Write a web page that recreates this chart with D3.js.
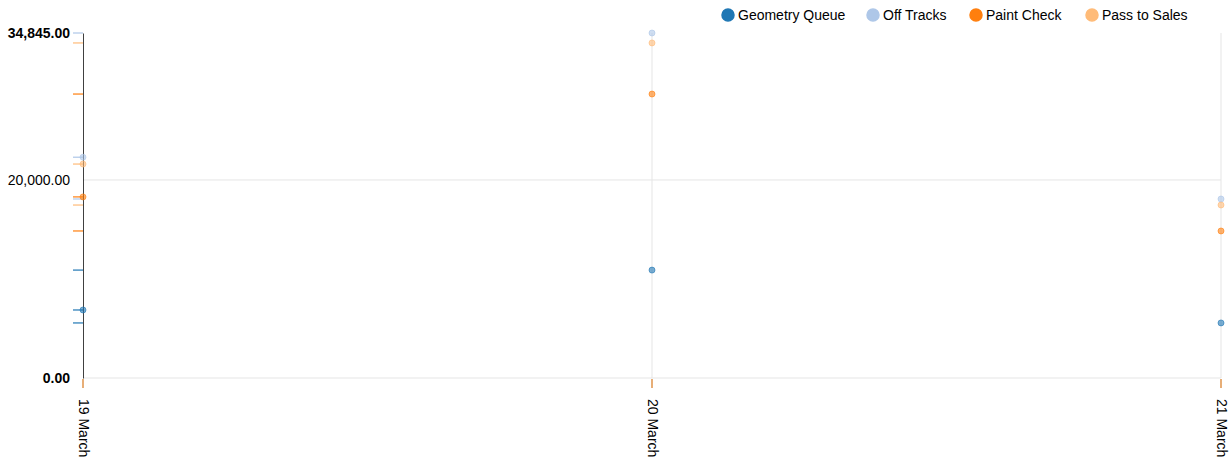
<!DOCTYPE html>
<html>
<head>
<meta charset="utf-8">
<script src="https://cdn.jsdelivr.net/npm/d3@7"></script>
<style>
  body { margin: 0; background: #fff; }
  text { font-family: "Liberation Sans", Arial, sans-serif; }
</style>
</head>
<body>
<script>
// Chart data
var categories = ["19 March", "20 March", "21 March"];
var seriesNames = ["Geometry Queue", "Off Tracks", "Paint Check", "Pass to Sales"];
var geometryQueue = [6870, 10900, 5560];
var offTracks = [22300, 34845, 18080];
var paintCheck = [18290, 28680, 14850];
var passToSales = [21610, 33840, 17470];
var yTicks = [0, 20000, 34845];

var colors = ["#1f77b4", "#aec7e8", "#ff7f0e", "#ffbb78"];
var series = [geometryQueue, offTracks, paintCheck, passToSales];

var margin = { top: 33, right: 9, bottom: 84, left: 83 };
var width = 1230 - margin.left - margin.right,
  height = 462 - margin.top - margin.bottom;

var svg = d3.select("body").append("svg")
  .attr("width", 1230)
  .attr("height", 462);

var g = svg.append("g")
  .attr("transform", `translate(${margin.left},${margin.top})`);

var x = d3.scalePoint().domain(categories).range([0, width]).padding(0);
var y = d3.scaleLinear().domain([0, d3.max(yTicks)]).range([height, 0]);

// grid lines
g.selectAll(".hgrid").data(yTicks.slice(0, 2)).enter().append("line")
  .attr("x1", 0).attr("x2", width)
  .attr("y1", d => y(d)).attr("y2", d => y(d))
  .attr("stroke", "#e5e5e5");
g.selectAll(".vgrid").data(categories.slice(1)).enter().append("line")
  .attr("x1", d => x(d)).attr("x2", d => x(d))
  .attr("y1", 0).attr("y2", height)
  .attr("stroke", "#e5e5e5");

// y axis
var yAxis = g.append("g")
  .call(d3.axisLeft(y).tickValues(yTicks).tickSize(0).tickPadding(13)
    .tickFormat(d3.format(",.2f")));
yAxis.select(".domain").attr("stroke", "#000").attr("stroke-opacity", 0.75);
yAxis.selectAll("text")
  .style("font-size", "14px")
  .attr("fill", "#000")
  .style("font-weight", d => (d === 0 || d === d3.max(yTicks)) ? "bold" : "normal");

// x axis labels
g.selectAll(".xlab").data(categories).enter().append("text")
  .attr("transform", d => `translate(${x(d)},${height + 21}) rotate(90)`)
  .attr("dy", "0.32em")
  .attr("fill", "#000")
  .style("font-size", "14px")
  .text(d => d);

// series: rugs and points
series.forEach(function (vals, i) {
  var s = g.append("g");
  // x rug
  s.selectAll(".distx").data(vals).enter().append("line")
    .attr("x1", (d, j) => x(categories[j])).attr("x2", (d, j) => x(categories[j]))
    .attr("y1", height + 1).attr("y2", height + 10)
    .attr("stroke", colors[i]).attr("stroke-width", 2).attr("stroke-opacity", 0.5);
  // y rug
  s.selectAll(".disty").data(vals).enter().append("line")
    .attr("x1", -10).attr("x2", 0)
    .attr("y1", d => y(d)).attr("y2", d => y(d))
    .attr("stroke", colors[i]).attr("stroke-width", 1.2);
  // points
  s.selectAll("circle").data(vals).enter().append("circle")
    .attr("cx", (d, j) => x(categories[j]))
    .attr("cy", d => y(d))
    .attr("r", 3)
    .attr("fill", colors[i]).attr("fill-opacity", 0.6)
    .attr("stroke", colors[i]).attr("stroke-opacity", 0.6);
});

// legend
var legendX = [728, 873, 976, 1092];
var legend = svg.append("g");
seriesNames.forEach(function (name, i) {
  legend.append("circle")
    .attr("cx", legendX[i]).attr("cy", 15).attr("r", 6)
    .attr("fill", colors[i]).attr("stroke", colors[i]).attr("stroke-width", 1.5);
  legend.append("text")
    .attr("x", legendX[i] + 10).attr("y", 15).attr("dy", "0.35em")
    .attr("fill", "#000")
    .style("font-size", "14px")
    .text(name);
});
</script>
</body>
</html>
